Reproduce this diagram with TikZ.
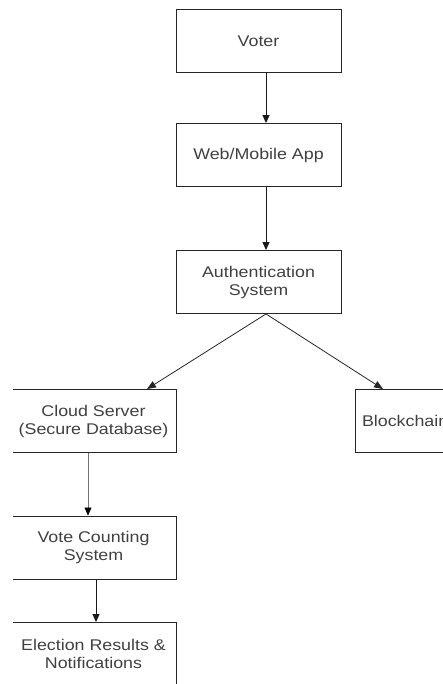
\documentclass[tikz,border=0pt]{standalone}
\usepackage{fontspec}
\setmainfont{Liberation Sans}[FakeStretch=1.15]
\usetikzlibrary{arrows.meta}
\begin{document}
\begin{tikzpicture}[x=1pt,y=-1pt,
  box/.style={draw=black!85, line width=0.9pt, minimum width=165pt, minimum height=63pt,
    inner sep=0pt, align=center, font=\fontsize{15.5}{18}\selectfont, text=black!75},
  arr/.style={line width=1pt, draw=black!90, -{Triangle[length=8pt,width=7pt]}},
  link/.style={line width=0.8pt, draw=black!85, -{Triangle[length=9pt,width=7pt]}}]
\useasboundingbox (0,0) rectangle (443,684);
\clip (13,0) rectangle (443,684);

% boxes
\node[box] (voter) at (258.5,41) {Voter};
\node[box] (app) at (258.5,155) {Web/Mobile App};
\node[box] (auth) at (258.5,282) {Authentication\\System};
\node[box] (cloud) at (93.5,421) {Cloud Server\\(Secure Database)};
\node[box, text width=151pt, inner xsep=7pt, align=left] (chain) at (437.5,421) {Blockchain};
\node[box] (count) at (93.5,547.5) {Vote Counting\\System};
\node[box] (results) at (93.5,654) {Election Results \&\\Notifications};

% columns of the connectors
\coordinate (mid) at (266,0);
\coordinate (tipL) at (147,0);
\coordinate (tipR) at (383,0);
\coordinate (colA) at (88,0);
\coordinate (colB) at (96,0);

% connectors
\draw[arr] (voter.south -| mid) -- (app.north -| mid);
\draw[arr] (app.south -| mid) -- (auth.north -| mid);
\draw[link] (auth.south -| mid) -- (cloud.north -| tipL);
\draw[link] (auth.south -| mid) -- (chain.north -| tipR);
\draw[line width=0.5pt, draw=black!55, -{Triangle[length=8pt,width=7pt,color=black]}]
  (cloud.south -| colA) -- (count.north -| colA);
\draw[arr] (count.south -| colB) -- (results.north -| colB);
\end{tikzpicture}
\end{document}
